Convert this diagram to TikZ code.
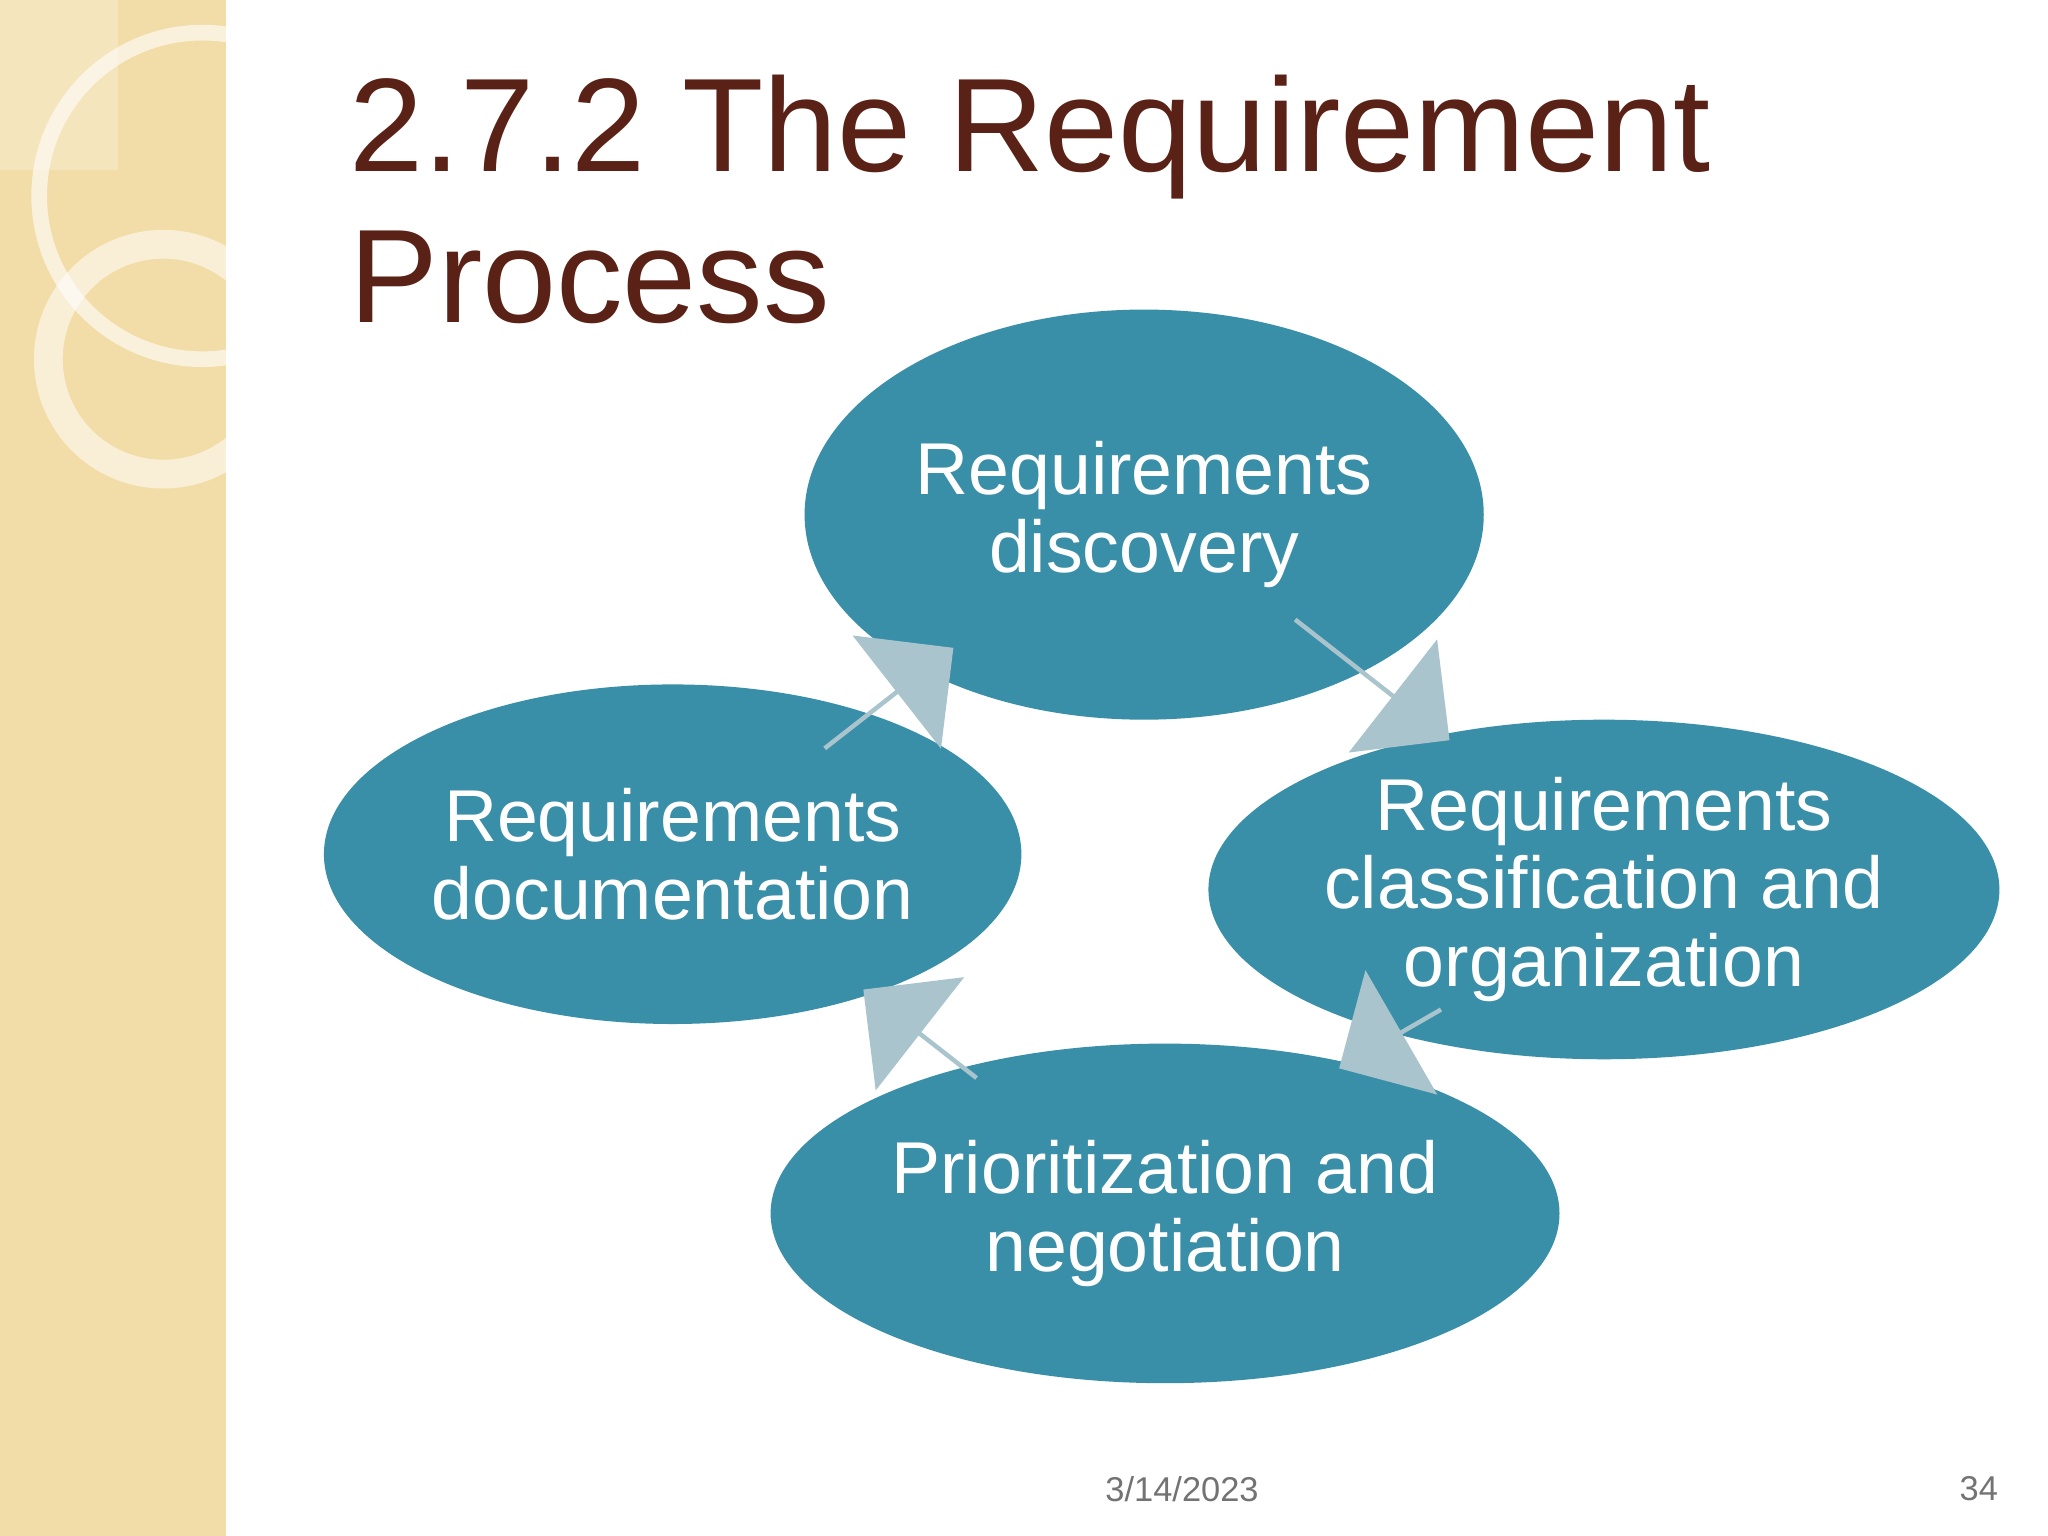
\documentclass[tikz,border=0pt]{standalone}
\usepackage{fontspec}
\setmainfont{Liberation Sans}
\usetikzlibrary{shapes.geometric,shapes.arrows}
\definecolor{teal}{HTML}{3A8FA8}
\definecolor{arr}{HTML}{AAC4CE}
\definecolor{band}{HTML}{F2DDA8}
\definecolor{titlec}{HTML}{5A2216}
\begin{document}
\begin{tikzpicture}[x=0.1mm,y=-0.1mm,
  ell/.style={ellipse,fill=teal,text=white,align=center,font=\fontsize{16}{17}\selectfont,inner sep=0pt},
  barrow/.style={single arrow,fill=arr,minimum height=#1,single arrow head extend=2.2mm,minimum width=11mm,inner sep=0pt}]
\useasboundingbox (0,0) rectangle (1568,1176);
\fill[white] (0,0) rectangle (1568,1176);
\fill[band] (0,0) rectangle (173,1176);
\fill[white,opacity=0.25] (0,0) rectangle (90,130);
\begin{scope}
\clip (0,0) rectangle (173,1176);
\draw[white,opacity=0.6,line width=1.2mm] (155,150) circle (125);
\draw[white,opacity=0.55,line width=2.2mm] (125,275) circle (88);
\end{scope}
\node[anchor=north west,text=titlec,align=left,font=\fontsize{29}{33}\selectfont] (title) at (255,45) {2.7.2 The Requirement\\Process};
\node[ell,minimum width=52mm,minimum height=31.4mm] (disc) at (876,394) {Requirements\\discovery};
\node[ell,minimum width=53.4mm,minimum height=26mm] (doc) at (515,654) {Requirements\\documentation};
\node[ell,minimum width=60.4mm,minimum height=26mm] (cls) at (1228,681) {Requirements\\classification and\\organization};
\node[ell,minimum width=60.4mm,minimum height=26mm] (pri) at (892,929) {Prioritization and\\negotiation};
\node[barrow=12.5mm,rotate=38] (a1) at (680,535) {};
\node[barrow=15mm,rotate=-38] (a2) at (1050,520) {};
\node[barrow=9mm,rotate=-150] (a3) at (1065,795) {};
\node[barrow=11mm,rotate=142] (a4) at (705,792) {};
\node[text=gray!90!black,font=\fontsize{7.5}{9}\selectfont] (date) at (905,1140) {3/14/2023};
\node[text=gray!90!black,font=\fontsize{7.5}{9}\selectfont] (pg) at (1515,1140) {34};
\end{tikzpicture}
\end{document}
